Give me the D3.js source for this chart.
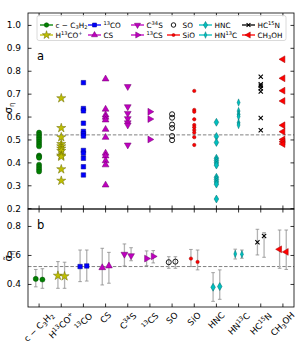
<!DOCTYPE html>
<html><head><meta charset="utf-8">
<script src="https://cdn.jsdelivr.net/npm/d3@7"></script>
<style>html,body{margin:0;padding:0;background:#fff}svg{display:block;font-family:"DejaVu Sans",sans-serif}</style>
</head><body><svg id="c" width="299" height="345"></svg>
<script>
// ---------- data ----------
const categories = ["cC3H2","H13COp","13CO","CS","C34S","13CS","SO","SiO","HNC","HN13C","HC15N","CH3OH"];
const tickLabels = ["c − C_{3}H_{2}","H^{13}CO^{+}","^{13}CO","CS","C^{34}S","^{13}CS","SO","SiO","HNC","HN^{13}C","HC^{15}N","CH_{3}OH"];
const topTicks = [0.2,0.3,0.4,0.5,0.6,0.7,0.8,0.9,1.0];
const bottomTicks = [0.4,0.6,0.8];
const refLevel = 0.52;

const valsCC3H2 = [0.53,0.52,0.51,0.50,0.49,0.48,0.47,0.43,0.425,0.42,0.39,0.38,0.37,0.36];
const valsH13COp = [0.68,0.55,0.51,0.48,0.47,0.46,0.45,0.43,0.425,0.37,0.32];
const vals13CO = [0.748,0.635,0.625,0.571,0.535,0.525,0.515,0.452,0.44,0.418,0.381,0.345];
const valsCS = [0.764,0.632,0.607,0.597,0.585,0.544,0.509,0.44,0.428,0.407,0.389,0.301];
const valsC34S = [0.731,0.643,0.614,0.591,0.573,0.563,0.476];
const vals13CS = [0.621,0.589,0.50];
const valsSO = [0.61,0.595,0.565,0.55,0.515,0.497];
const valsSiO = [0.712,0.629,0.621,0.588,0.563,0.553,0.541,0.53,0.51,0.476];
const valsHNC = [0.575,0.513,0.487,0.418,0.408,0.398,0.388,0.335,0.325,0.315,0.305,0.24];
const valsHN13C = [0.661,0.624,0.61,0.60,0.573,0.563];
const valsHC15N = [0.774,0.741,0.734,0.724,0.709,0.594,0.54];
const valsCH3OH = [0.85,0.767,0.713,0.668,0.562,0.534,0.50,0.49,0.48];

const medFirst  = [0.435,0.457,0.52,0.512,0.605,0.575,0.55,0.575,0.377,0.607,0.688,0.639];
const medSecond = [0.43,0.453,0.524,0.524,0.595,0.59,0.554,0.552,0.382,0.605,0.731,0.621];
const loFirst   = [0.38,0.37,0.416,0.393,0.524,0.526,0.508,0.52,0.28,0.572,0.60,0.508];
const hiFirst   = [0.50,0.554,0.634,0.646,0.676,0.628,0.588,0.638,0.478,0.64,0.777,0.772];
const loSecond  = [0.37,0.37,0.42,0.405,0.56,0.545,0.508,0.497,0.294,0.577,0.584,0.50];
const hiSecond  = [0.505,0.55,0.634,0.618,0.65,0.63,0.588,0.634,0.497,0.634,0.754,0.772];

const topSeries = [valsCC3H2,valsH13COp,vals13CO,valsCS,valsC34S,vals13CS,valsSO,valsSiO,valsHNC,valsHN13C,valsHC15N,valsCH3OH];

// ---------- styles ----------
const xSym = {draw(ctx,size){const r=Math.sqrt(size)/2;ctx.moveTo(-r,-r);ctx.lineTo(r,r);ctx.moveTo(-r,r);ctx.lineTo(r,-r);}};
const styles = [
 {type:d3.symbolCircle,size:20,fill:"#008000",stroke:"#004d00",rot:0},
 {type:d3.symbolStar,size:26,fill:"#bfbf00",stroke:"#6b6b00",rot:0},
 {type:d3.symbolSquare,size:20,fill:"#0000ff",stroke:"#00008a",rot:0},
 {type:d3.symbolTriangle,size:20,fill:"#bf00bf",stroke:"#6e006e",rot:0},
 {type:d3.symbolTriangle,size:20,fill:"#bf00bf",stroke:"#6e006e",rot:180},
 {type:d3.symbolTriangle,size:20,fill:"#bf00bf",stroke:"#6e006e",rot:90},
 {type:d3.symbolCircle,size:20,fill:"none",stroke:"#000",rot:0,open:true},
 {type:d3.symbolCircle,size:9,fill:"#ff0000",stroke:"#a00000",rot:0},
 {type:d3.symbolDiamond,size:18,fill:"#00bfbf",stroke:"#006b6b",rot:0},
 {type:d3.symbolDiamond,size:16,fill:"#00bfbf",stroke:"#006b6b",rot:0,thin:true},
 {type:xSym,size:18,fill:"none",stroke:"#000",rot:0,cross:true},
 {type:d3.symbolTriangle,size:20,fill:"#ff0000",stroke:"#a00000",rot:-90}
];
const lineColors = ["#008000","#bfbf00","#0000ff","#bf00bf","#bf00bf","#bf00bf",null,"#ff0000","#00bfbf","#00bfbf","#000","#ff0000"];

// ---------- layout ----------
const L = 28, R = 294;
const svg = d3.select("#c");
const x = d3.scaleBand().domain(categories).range([L,R]).paddingInner(0).paddingOuter(0);
const cx = c => x(c) + x.bandwidth()/2;
const yTop = d3.scaleLinear().domain([0.1965,1.052]).range([209,13]);
const yBot = d3.scaleLinear().domain([0.241,0.917]).range([307,209]);

function rich(sel, str, fs){
  const parts = str.split(/([_^]\{[^}]*\})/).filter(s=>s.length);
  let shift = 0;
  parts.forEach(p=>{
    let txt=p, size=fs, target=0;
    if(p[0]==="_"){txt=p.slice(2,-1);size=fs*0.7;target=fs*0.22;}
    else if(p[0]==="^"){txt=p.slice(2,-1);size=fs*0.7;target=-fs*0.36;}
    sel.append("tspan").attr("font-size",size).attr("dy",target-shift).text(txt);
    shift=target;
  });
}

function drawMarker(g, st, px, py, scale){
  return g.append("path")
    .attr("d", d3.symbol().type(st.type).size(st.size*(scale||1))())
    .attr("transform", `translate(${px},${py}) rotate(${st.rot})${st.thin?" scale(0.7,1)":""}`)
    .attr("fill", st.fill).attr("stroke", st.stroke)
    .attr("stroke-width", st.open?0.9:(st.cross?1.1:0.5));
}

function refLine(yS){
  svg.append("line").attr("x1",L).attr("x2",R).attr("y1",yS(refLevel)).attr("y2",yS(refLevel))
    .attr("stroke","#808080").attr("stroke-width",1).attr("stroke-dasharray","3.5,1.8");
}

function axes(yS, ticks, y0, y1){
  const g = svg.append("g");
  const ax = g.append("g").attr("transform",`translate(${L},0)`)
    .call(d3.axisLeft(yS).tickValues(ticks).tickSizeInner(-3.5).tickSizeOuter(0).tickPadding(7).tickFormat(d3.format(".1f")));
  ax.select(".domain").remove();
  ax.selectAll("text").attr("font-size",9).attr("font-family","DejaVu Sans").attr("fill","#000");
  ax.selectAll("line").attr("stroke","#000").attr("stroke-width",0.8);
  const ar = g.append("g").attr("transform",`translate(${R},0)`)
    .call(d3.axisRight(yS).tickValues(ticks).tickSizeInner(-3.5).tickSizeOuter(0).tickFormat(""));
  ar.select(".domain").remove();
  ar.selectAll("line").attr("stroke","#000").attr("stroke-width",0.8);
  const at = g.append("g").attr("transform",`translate(0,${y0})`)
    .call(d3.axisTop(x).tickSizeInner(-3.5).tickSizeOuter(0).tickFormat(""));
  at.select(".domain").remove();
  at.selectAll("line").attr("stroke","#000").attr("stroke-width",0.8);
  const ab = g.append("g").attr("transform",`translate(0,${y1})`)
    .call(d3.axisBottom(x).tickSizeInner(-3.5).tickSizeOuter(0).tickFormat(""));
  ab.select(".domain").remove();
  ab.selectAll("line").attr("stroke","#000").attr("stroke-width",0.8);
  g.append("rect").attr("x",L).attr("y",y0).attr("width",R-L).attr("height",y1-y0)
    .attr("fill","none").attr("stroke","#000").attr("stroke-width",0.8);
}

// ---------- panel a ----------
refLine(yTop);
const gA = svg.append("g");
topSeries.forEach((vals,i)=>{
  vals.forEach(v=>drawMarker(gA, styles[i], cx(categories[i]), yTop(v)));
});
axes(yTop, topTicks, 13, 209);
svg.append("text").attr("x",37).attr("y",60).attr("font-size",11.5).text("a");

// legend
const lg = svg.append("g");
lg.append("rect").attr("x",37).attr("y",15.5).attr("width",249).attr("height",25).attr("rx",2)
  .attr("fill","#fff").attr("fill-opacity",0.8).attr("stroke","#d0d0d0").attr("stroke-width",0.8);
const colX = [40,88,131,167,199,242];
const rowY = [25,35];
categories.forEach((c,i)=>{
  const col = Math.floor(i/2), row = i%2;
  const hx = colX[col], hy = rowY[row];
  if(lineColors[i]){
    lg.append("line").attr("x1",hx).attr("x2",hx+13).attr("y1",hy).attr("y2",hy)
      .attr("stroke",lineColors[i]).attr("stroke-width",1.3);
  }
  drawMarker(lg, styles[i], hx+6.5, hy, 0.8);
  const t = lg.append("text").attr("x",hx+15.5).attr("y",hy+2.6).attr("font-size",7.3);
  rich(t, tickLabels[i], 7.3);
});

// ---------- panel b ----------
refLine(yBot);
const gB = svg.append("g");
const off = x.bandwidth()*0.15;
categories.forEach((c,i)=>{
  const pairs = [[medFirst[i],loFirst[i],hiFirst[i],-off],[medSecond[i],loSecond[i],hiSecond[i],off]];
  pairs.forEach(([m,lo,hi,o])=>{
    const px = cx(c)+o;
    gB.append("line").attr("x1",px).attr("x2",px).attr("y1",yBot(lo)).attr("y2",yBot(hi))
      .attr("stroke","#b3b3b3").attr("stroke-width",1.3);
    [lo,hi].forEach(v=>gB.append("line").attr("x1",px-1.8).attr("x2",px+1.8).attr("y1",yBot(v)).attr("y2",yBot(v))
      .attr("stroke","#8c8c8c").attr("stroke-width",0.8));
  });
  pairs.forEach(([m,lo,hi,o])=>drawMarker(gB, styles[i], cx(c)+o, yBot(m)));
});
axes(yBot, bottomTicks, 209, 307);
svg.append("text").attr("x",37).attr("y",229).attr("font-size",11.5).text("b");

// x tick labels, rotated 45, centred on tick
categories.forEach((c,i)=>{
  const g = svg.append("g");
  const t = g.append("text").attr("font-size",8.6).attr("text-anchor","end").attr("transform","rotate(-45)");
  rich(t, tickLabels[i], 8.6);
  const b = g.node().getBBox();
  g.attr("transform",`translate(${cx(c)-(b.x+b.width/2)},${310-b.y})`);
});

// y labels
function yLabel(str, cy){
  const g = svg.append("g").attr("transform",`translate(11.5,${cy}) rotate(-90)`);
  const t = g.append("text").attr("x",0).attr("y",0).attr("font-size",10);
  rich(t, str, 10);
  const b = t.node().getBBox();
  t.attr("x", -b.width/2);
}
yLabel("σ_{η}", 108);
yLabel("σ\u0303_{η}", 256);
</script></body></html>
